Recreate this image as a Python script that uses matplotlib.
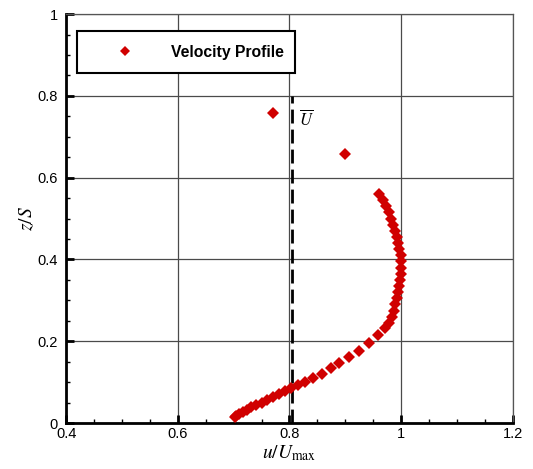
import matplotlib
matplotlib.use("Agg")
import matplotlib.pyplot as plt
from matplotlib.ticker import MultipleLocator

plt.rcParams['font.family'] = ['Liberation Sans', 'DejaVu Sans']
plt.rcParams['mathtext.fontset'] = 'stix'

# Measured velocity profile: u/Umax against z/S
u_ratio = [0.960, 0.967, 0.973, 0.978, 0.982, 0.986, 0.989, 0.992, 0.995, 0.997,
           0.999, 1.000, 1.000, 0.999, 0.998, 0.996, 0.994, 0.992, 0.990, 0.987,
           0.983, 0.978, 0.971, 0.958, 0.943, 0.925, 0.907, 0.889, 0.874, 0.858,
           0.842, 0.828, 0.815, 0.803, 0.792, 0.781, 0.770, 0.760, 0.750, 0.741,
           0.732, 0.724, 0.716, 0.709, 0.704, 0.702,
           0.771, 0.900]
z_ratio = [0.560, 0.545, 0.530, 0.515, 0.500, 0.485, 0.470, 0.455, 0.440, 0.425,
           0.410, 0.395, 0.380, 0.365, 0.350, 0.335, 0.320, 0.305, 0.290, 0.275,
           0.260, 0.245, 0.232, 0.216, 0.196, 0.176, 0.162, 0.148, 0.134, 0.121,
           0.110, 0.100, 0.092, 0.085, 0.078, 0.071, 0.064, 0.057, 0.050, 0.044,
           0.038, 0.032, 0.026, 0.021, 0.017, 0.015,
           0.759, 0.659]

# Mean velocity line
u_mean = 0.805
u_mean_top = 0.8

x_ticks = [0.4, 0.6, 0.8, 1.0, 1.2]
x_ticklabels = ["0.4", "0.6", "0.8", "1", "1.2"]
y_ticks = [0, 0.2, 0.4, 0.6, 0.8, 1.0]
y_ticklabels = ["0", "0.2", "0.4", "0.6", "0.8", "1"]

fig = plt.figure(figsize=(5.33, 4.69), dpi=100)
ax = fig.add_axes([0.124, 0.098, 0.838, 0.872])

ax.set_xlim(0.4, 1.2)
ax.set_ylim(0, 1)
ax.set_xticks(x_ticks)
ax.set_xticklabels(x_ticklabels)
ax.set_yticks(y_ticks)
ax.set_yticklabels(y_ticklabels)
ax.xaxis.set_minor_locator(MultipleLocator(0.05))
ax.yaxis.set_minor_locator(MultipleLocator(0.05))

ax.grid(True, which='major', color='#4a4a4a', linewidth=0.9)
ax.set_axisbelow(True)

for side in ('top', 'right'):
    ax.spines[side].set_color('#555555')
    ax.spines[side].set_linewidth(0.9)
for side in ('left', 'bottom'):
    ax.spines[side].set_color('black')
    ax.spines[side].set_linewidth(2.0)

ax.tick_params(which='major', direction='in', length=6, width=2,
               labelsize=10.5, top=False, right=False)
ax.tick_params(axis='x', which='major', pad=2.5)
ax.tick_params(axis='y', which='major', pad=6)
ax.tick_params(which='minor', direction='in', length=3, width=1,
               top=False, right=False)

# Dashed line marking the mean velocity
ax.plot([u_mean, u_mean], [0, u_mean_top], color='black', linewidth=2,
        dashes=(5, 2.2), zorder=2)
ax.text(u_mean + 0.012, 0.745, r'$\overline{U}$', fontsize=12,
        ha='left', va='center')

ax.plot(u_ratio, z_ratio, linestyle='none', marker='D', markersize=6.3,
        color='#d00000', markeredgewidth=0, label='Velocity Profile', zorder=3)

leg = ax.legend(loc='lower left', bbox_to_anchor=(0.025, 0.856, 0.488, 0.1),
                mode='expand', borderaxespad=0, frameon=True, fancybox=False,
                handlelength=4.4, handletextpad=0.7, borderpad=0.85,
                numpoints=1, markerscale=0.8,
                prop={'weight': 'bold', 'size': 11.3})
leg.get_frame().set_edgecolor('black')
leg.get_frame().set_linewidth(1.5)
leg.get_frame().set_alpha(1)

ax.set_xlabel(r'$u/U_{\mathrm{max}}$', fontsize=14, labelpad=2)
ax.set_ylabel(r'$z/S$', fontsize=14, labelpad=1)

fig.savefig('out.png', dpi=100)
